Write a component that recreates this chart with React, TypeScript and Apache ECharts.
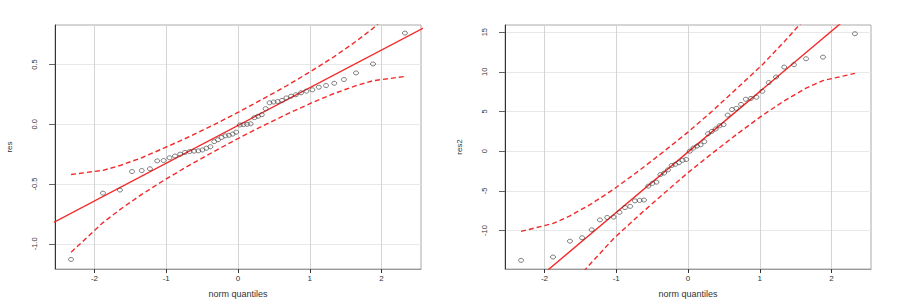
import React, { useEffect, useRef } from "react";
import * as echarts from "echarts";

// theoretical normal quantiles (x of every point)
const normQuantiles = [
  -2.326, -1.881, -1.645, -1.476, -1.341, -1.227, -1.126, -1.036, -0.954, -0.878,
  -0.806, -0.739, -0.674, -0.613, -0.553, -0.496, -0.44, -0.385, -0.332, -0.279,
  -0.228, -0.176, -0.126, -0.075, -0.025, 0.025, 0.075, 0.126, 0.176, 0.228,
  0.279, 0.332, 0.385, 0.44, 0.496, 0.553, 0.613, 0.674, 0.739, 0.806,
  0.878, 0.954, 1.036, 1.126, 1.227, 1.341, 1.476, 1.645, 1.881, 2.326,
];

// sorted residuals, left panel
const resValues = [
  -1.13, -0.576, -0.55, -0.395, -0.387, -0.372, -0.306, -0.303, -0.28, -0.265,
  -0.25, -0.235, -0.228, -0.225, -0.222, -0.215, -0.2, -0.188, -0.145, -0.13,
  -0.11, -0.097, -0.092, -0.082, -0.066, -0.006, -0.003, 0.0, 0.004, 0.055,
  0.067, 0.08, 0.13, 0.18, 0.186, 0.19, 0.2, 0.22, 0.235, 0.247,
  0.263, 0.277, 0.288, 0.31, 0.324, 0.343, 0.374, 0.429, 0.504, 0.762,
];

// sorted residuals, right panel
const res2Values = [
  -13.75, -13.33, -11.33, -10.9, -9.9, -8.65, -8.35, -8.3, -7.7, -7.1,
  -6.95, -6.25, -6.2, -6.15, -4.4, -4.05, -3.9, -2.95, -2.75, -2.35,
  -1.8, -1.65, -1.45, -1.15, -1.05, 0.0, 0.4, 0.65, 0.8, 1.2,
  2.2, 2.5, 2.8, 3.2, 3.35, 4.55, 5.25, 5.4, 5.9, 6.55,
  6.65, 6.8, 7.55, 8.65, 9.35, 10.6, 10.9, 11.65, 11.85, 14.8,
];

// reference line end points
const fitX = [-2.6, 2.6];
const resFit = [-0.83, 0.81];
const res2Fit = [-19.9, 19.7];

// confidence envelope
const bandX = [-2.326, -1.881, -1.645, -1.341, -1.036, -0.674, -0.332, 0, 0.332, 0.674, 1.036, 1.341, 1.645, 1.881, 2.326];
const resUpper = [-0.42, -0.385, -0.345, -0.28, -0.2, -0.103, -0.003, 0.099, 0.207, 0.32, 0.45, 0.566, 0.693, 0.802, 1.05];
const resLower = [-1.07, -0.822, -0.713, -0.586, -0.47, -0.341, -0.227, -0.119, -0.017, 0.083, 0.182, 0.258, 0.323, 0.364, 0.4];
const res2Upper = [-10.1, -9.1, -8.15, -6.6, -4.8, -2.4, 0.0, 2.4, 5.0, 7.85, 10.9, 13.8, 16.85, 19.5, 25.4];
const res2Lower = [-25.6, -19.7, -17.05, -14.0, -11.0, -8.0, -5.3, -2.7, -0.3, 2.1, 4.5, 6.35, 7.95, 8.9, 9.8];

const xTicks = [-2, -1, 0, 1, 2];
const resTicks = [-1.0, -0.5, 0.0, 0.5];
const res2Ticks = [-10, -5, 0, 5, 10, 15];
const resTickLabels = ["-1.0", "-0.5", "0.0", "0.5"];
const res2TickLabels = ["-10", "-5", "0", "5", "10", "15"];

const FONT = "Liberation Sans, Arial, sans-serif";
const RED = "#f42a2a";
const X_MIN = -2.55;

function pairs(xs: number[], ys: number[]) {
  return xs.map((x, i) => [x, ys[i]]);
}

function onTick(v: number, ticks: number[]) {
  return ticks.some((t) => Math.abs(t - v) < 1e-6);
}

export default function App() {
  const ref = useRef<HTMLDivElement>(null);
  useEffect(() => {
    if (!ref.current) return;
    const chart = echarts.init(ref.current, null, { renderer: "svg" });

    const xAxisBase = (gridIndex: number) => ({
      type: "value",
      gridIndex,
      min: X_MIN,
      max: 2.55,
      name: "norm quantiles",
      nameLocation: "middle",
      nameGap: 20,
      nameTextStyle: { fontSize: 9, color: "#333", fontFamily: FONT },
      axisLine: { show: true, onZero: false, lineStyle: { color: "#999", width: 1 } },
      axisTick: { show: true, length: 4, lineStyle: { color: "#333" }, customValues: xTicks },
      axisLabel: {
        fontSize: 8,
        color: "#333",
        fontFamily: FONT,
        margin: 5,
        formatter: (v: number) => (onTick(v, xTicks) ? String(Math.round(v)) : ""),
      },
      splitLine: { show: true, lineStyle: { color: "#d4d4d4", width: 1 } },
    });

    const yAxisBase = (gridIndex: number, name: string, min: number, max: number, ticks: number[]) => ({
      type: "value",
      gridIndex,
      min,
      max,
      name,
      nameLocation: "middle",
      nameGap: 42,
      nameTextStyle: { fontSize: 8, color: "#333", fontFamily: FONT },
      axisLine: { show: true, onZero: false, lineStyle: { color: "#333", width: 1 } },
      axisTick: { show: true, length: 6, lineStyle: { color: "#666" }, customValues: ticks },
      axisLabel: { show: false },
      splitLine: { show: true, lineStyle: { color: "#e8e8e8", width: 1 } },
    });

    const scatter = (idx: number, ys: number[]) => ({
      type: "scatter",
      xAxisIndex: idx,
      yAxisIndex: idx,
      data: pairs(normQuantiles, ys),
      symbol: "circle",
      symbolSize: [5, 4],
      itemStyle: { color: "rgba(0,0,0,0)", borderColor: "#3a3a3a", borderWidth: 0.8 },
      z: 5,
    });
    const line = (idx: number, xs: number[], ys: number[], dashed: boolean) => ({
      type: "line",
      xAxisIndex: idx,
      yAxisIndex: idx,
      data: pairs(xs, ys),
      showSymbol: false,
      symbol: "none",
      clip: true,
      lineStyle: { color: RED, width: 1.4, type: dashed ? [5, 3] : "solid" },
      z: 4,
    });

    chart.setOption({
      animation: false,
      textStyle: { fontFamily: FONT },
      grid: [
        { left: 55, top: 25, width: 366, height: 246, show: true, borderColor: "#aaa", borderWidth: 1 },
        { left: 505, top: 25, width: 366, height: 246, show: true, borderColor: "#aaa", borderWidth: 1 },
      ],
      xAxis: [xAxisBase(0), xAxisBase(1)],
      yAxis: [
        yAxisBase(0, "res", -1.21, 0.83, resTicks),
        yAxisBase(1, "res2", -14.84, 15.9, res2Ticks),
      ],
      series: [
        line(0, fitX, resFit, false),
        line(0, bandX, resUpper, true),
        line(0, bandX, resLower, true),
        scatter(0, resValues),
        line(1, fitX, res2Fit, false),
        line(1, bandX, res2Upper, true),
        line(1, bandX, res2Lower, true),
        scatter(1, res2Values),
      ],
    });

    // rotated y tick labels (R style, parallel to the axis), placed through the axis scales
    const labelGap = 21;
    const graphics: any[] = [];
    const addLabels = (idx: number, ticks: number[], labels: string[]) => {
      ticks.forEach((t, i) => {
        const p = chart.convertToPixel({ xAxisIndex: idx, yAxisIndex: idx }, [X_MIN, t]) as number[];
        graphics.push({
          type: "text",
          x: p[0] - labelGap,
          y: p[1],
          rotation: Math.PI / 2,
          style: {
            text: labels[i],
            fontSize: 7.5,
            fontFamily: FONT,
            fill: "#333",
            align: "center",
            verticalAlign: "middle",
          },
        });
      });
    };
    addLabels(0, resTicks, resTickLabels);
    addLabels(1, res2Ticks, res2TickLabels);
    chart.setOption({ graphic: graphics });

    return () => chart.dispose();
  }, []);

  return (
    <div
      ref={ref}
      style={{ position: "absolute", left: 0, top: 0, width: 900, height: 303, background: "#fff" }}
    />
  );
}
